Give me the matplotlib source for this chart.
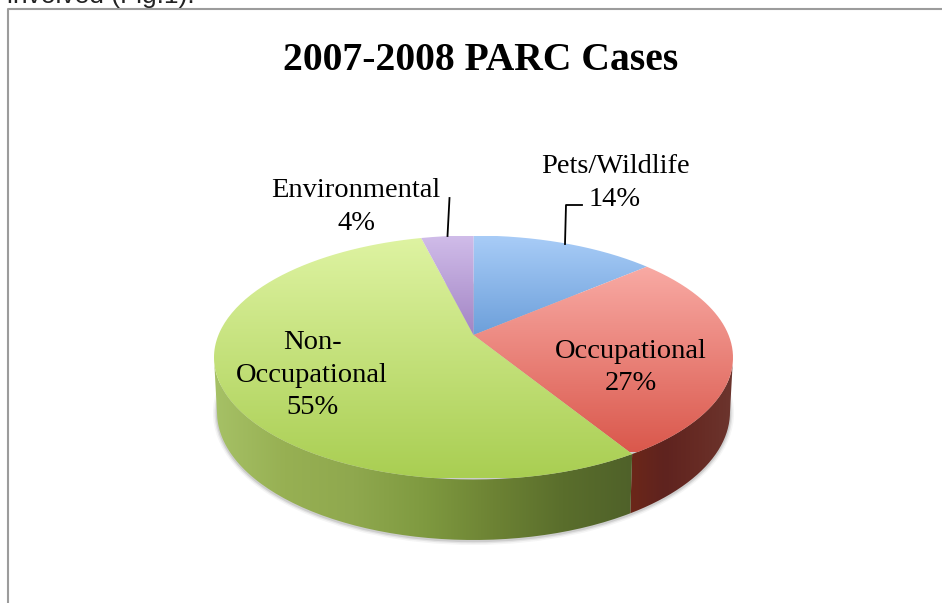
"""2007-2008 PARC cases: a 3D-look pie drawn in pixel coordinates."""
import matplotlib

matplotlib.use("Agg")
import matplotlib.pyplot as plt
import numpy as np
from matplotlib.colors import LinearSegmentedColormap
from matplotlib.patches import Ellipse, PathPatch
from matplotlib.path import Path

categories = ["Pets/Wildlife", "Occupational", "Non-\nOccupational", "Environmental"]
shares = [14, 27, 55, 4]

W, H = 942, 603
# top face ellipse, off-centre apex, and bottom rim ellipse
CX, CY, RX, RY = 473.5, 357.5, 259.5, 122
AX, AY = 473.5, 335
BCX, BCY, BRX, BRY = 473.5, 412, 256.5, 128
SQUASH = 2.1

TOP_COLORS = [
    ("#A8CCF7", "#6C9FDA", 236, 336),
    ("#F9ACA6", "#DA584C", 262, 452),
    ("#DEF3A2", "#A9CE52", 238, 478),
    ("#D0BCE9", "#A284C4", 236, 336),
]
SIDE_GREEN = ["#A6C166", "#97B053", "#8FA84E", "#7F9A40", "#6D8334", "#5A6E2C", "#4F6129"]
SIDE_RED = ["#6C2719", "#5F231F", "#672B24", "#6C352E"]
SHADOW = "#555555"


def rim_point(theta):
    """Cast a ray from the apex to the rim of the top ellipse."""
    dx, dy = SQUASH * np.sin(theta), -np.cos(theta)
    ox, oy = (AX - CX) / RX, (AY - CY) / RY
    ux, uy = dx / RX, dy / RY
    a = ux**2 + uy**2
    b = 2 * (ox * ux + oy * uy)
    c = ox**2 + oy**2 - 1
    t = (-b + np.sqrt(b**2 - 4 * a * c)) / (2 * a)
    return AX + t * dx, AY + t * dy


def to_bottom(x, y):
    return BCX + BRX * (x - CX) / RX, BCY + BRY * (y - CY) / RY


def fill_clipped(ax, verts, cmap, extent, vertical, zorder):
    grad = np.linspace(0, 1, 256)
    img = grad[:, None] if vertical else grad[None, :]
    im = ax.imshow(img, cmap=cmap, extent=extent, aspect="auto", zorder=zorder,
                   interpolation="bilinear", vmin=0, vmax=1)
    patch = PathPatch(Path(verts), transform=ax.transData, fc="none", ec="none")
    ax.add_patch(patch)
    im.set_clip_path(patch)


fig = plt.figure(figsize=(W / 100, H / 100), dpi=100, facecolor="white")
ax = fig.add_axes([0, 0, 1, 1])
ax.set_xlim(0, W)
ax.set_ylim(H, 0)
ax.axis("off")

# frame of the chart and the clipped line of body text above it
ax.plot([7.5, 7.5, W], [H, 9, 9], color="#9C9C9C", lw=1.5, zorder=1)
ax.text(7, 3, "involved (Fig.1).", family="Liberation Sans", fontsize=19,
        color="#222222", va="baseline", ha="left")

# soft shadow under the rim
for grow, alpha in [(4, 0.06), (2.5, 0.1), (1.2, 0.16)]:
    ax.add_patch(Ellipse((BCX, BCY + 1), 2 * (BRX + grow), 2 * (BRY + grow),
                         fc=SHADOW, ec="none", alpha=alpha, zorder=2))

edges = np.radians(np.cumsum([0] + shares) / sum(shares) * 360)
arcs = []
for start, end in zip(edges[:-1], edges[1:]):
    thetas = np.linspace(start, end, 160)
    arcs.append(np.array([rim_point(t) for t in thetas]))

# side walls: only the part of each arc in front of the ellipse centre
for idx, stops in [(1, SIDE_RED), (2, SIDE_GREEN)]:
    front = arcs[idx][arcs[idx][:, 1] >= CY]
    # make sure the wall reaches the extreme left/right of the ellipse
    if idx == 1:
        front = np.vstack([[CX + RX, CY], front])
    else:
        front = np.vstack([front, [CX - RX, CY]])
    xb, yb = to_bottom(front[:, 0], front[:, 1])
    verts = np.vstack([front, np.column_stack([xb, yb])[::-1], front[:1]])
    x0, x1 = verts[:, 0].min(), verts[:, 0].max()
    cmap = LinearSegmentedColormap.from_list(f"side{idx}", stops)
    fill_clipped(ax, verts, cmap, (x0, x1, H, 0), False, 3)

# top faces, each with its own vertical gradient
for arc, (c0, c1, y0, y1), k in zip(arcs, TOP_COLORS, range(len(arcs))):
    verts = np.vstack([[AX, AY], arc, [AX, AY]])
    cmap = LinearSegmentedColormap.from_list(f"top{k}", [c0, c1])
    fill_clipped(ax, verts, cmap, (0, W, y1, y0), True, 4)
ax.set_xlim(0, W)
ax.set_ylim(H, 0)

# leader lines
ax.plot([449.5, 447.5], [198, 236], color="black", lw=1.3, zorder=5)
ax.plot([565, 566, 582], [244, 205, 205], color="black", lw=1.3, zorder=5)

ax.text(481, 61, "2007-2008 PARC Cases", family="Liberation Serif", weight="bold",
        fontsize=28.5, ha="center", va="center", color="black")

label_pos = [(615, 183), (631, 367.5), (312, 375), (356, 207)]
for name, share, (lx, ly) in zip(categories, shares, label_pos):
    ax.text(lx, ly, f"{name}\n{share}%", family="Liberation Serif", fontsize=20.5,
            ha="center", va="center", linespacing=1.42, color="black", zorder=6)

fig.savefig("out.png", dpi=100, facecolor="white")
